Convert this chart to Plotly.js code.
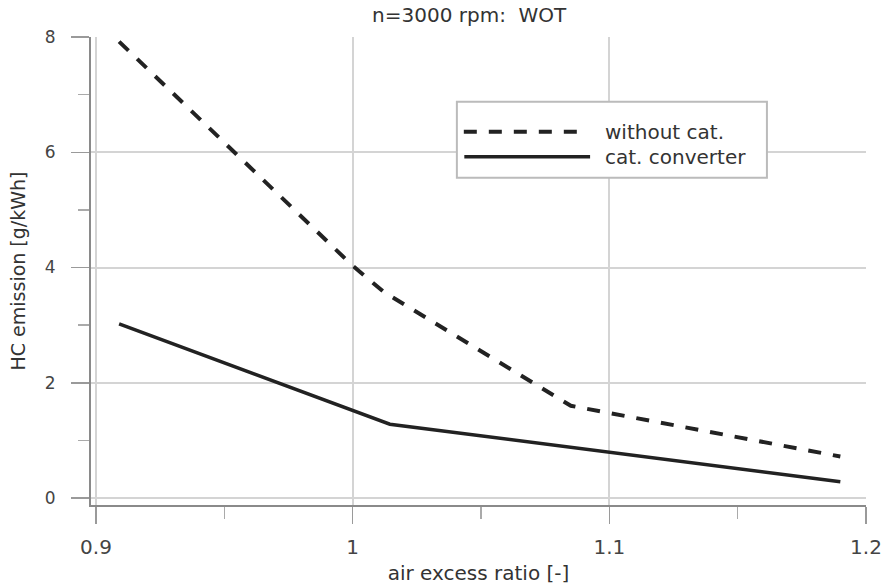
<!DOCTYPE html>
<html>
<head>
<meta charset="utf-8">
<script src="https://cdn.plot.ly/plotly-3.0.1.min.js"></script>
<style>html,body{margin:0;padding:0;background:#fff;}#chart{width:883px;height:585px;}</style>
</head>
<body>
<div id="chart"></div>
<script>
// Data
const seriesNames = ["without cat.", "cat. converter"];
const lambdaWithout = [0.909, 1.0, 1.012, 1.085, 1.19];
const hcWithout = [7.92, 4.03, 3.58, 1.60, 0.72];
const lambdaCat = [0.909, 1.0, 1.0145, 1.19];
const hcCat = [3.02, 1.53, 1.28, 0.28];
const xTicks = [0.9, 1, 1.1, 1.2];
const xTickText = ["0.9", "1", "1.1", "1.2"];
const yTicks = [0, 2, 4, 6, 8];
const yTickText = ["0", "2", "4", "6", "8"];

const FONT = "DejaVu Sans, Liberation Sans, sans-serif";
const INK = "#222";

const traces = [
  {x: lambdaWithout, y: hcWithout, name: seriesNames[0], mode: "lines", showlegend: false,
   line: {color: INK, width: 4, dash: "13px,12px"}},
  {x: lambdaCat, y: hcCat, name: seriesNames[1], mode: "lines", showlegend: false,
   line: {color: INK, width: 3.5}}
];

const layout = {
  width: 883, height: 585,
  margin: {l: 91, r: 17, t: 37, b: 80},
  paper_bgcolor: "#fff", plot_bgcolor: "#fff",
  font: {family: FONT, color: "#333", size: 15},
  title: {text: "n=3000 rpm:  WOT", font: {family: FONT, size: 20, color: "#333"},
          xref: "paper", x: 0.488, xanchor: "center", yref: "container", y: 0.974, yanchor: "middle"},
  xaxis: {
    range: [0.89805, 1.2], tickvals: xTicks, ticktext: xTickText,
    showgrid: true, gridcolor: "#d4d4d4", gridwidth: 2, zeroline: false,
    showline: true, linecolor: "#8a8a8a", linewidth: 2,
    ticks: "outside", ticklen: 17, tickcolor: "#9a9a9a", tickwidth: 1.5,
    ticklabelstandoff: 6,
    tickfont: {family: FONT, size: 20, color: "#444"},
    minor: {dtick: 0.05, tick0: 0.9, ticks: "outside", ticklen: 12, tickcolor: "#aaa", showgrid: false},
    title: {text: "air excess ratio [-]", font: {family: FONT, size: 20, color: "#333"}, standoff: 10}
  },
  yaxis: {
    range: [-0.1215, 8], tickvals: yTicks, ticktext: yTickText,
    showgrid: true, gridcolor: "#d4d4d4", gridwidth: 2, zeroline: false,
    showline: true, linecolor: "#8a8a8a", linewidth: 2,
    ticks: "outside", ticklen: 18, tickcolor: "#9a9a9a", tickwidth: 1.5,
    ticklabelstandoff: 12,
    tickfont: {family: FONT, size: 17, color: "#444"},
    minor: {dtick: 1, tick0: 0, ticks: "outside", ticklen: 11, tickcolor: "#aaa", showgrid: false},
    title: {text: "HC emission [g/kWh]", font: {family: FONT, size: 19, color: "#333"}, standoff: 14}
  },
  shapes: [
    {type: "rect", xref: "x", yref: "y", x0: 1.0406, x1: 1.1614, y0: 5.556, y1: 6.875,
     line: {color: "#bbb", width: 2}, fillcolor: "#fff", layer: "above"},
    {type: "line", xref: "x", yref: "y", x0: 1.0433, x1: 1.0905, y0: 6.354, y1: 6.354,
     line: {color: INK, width: 4, dash: "13px,12px"}, layer: "above"},
    {type: "line", xref: "x", yref: "y", x0: 1.0435, x1: 1.0925, y0: 5.92, y1: 5.92,
     line: {color: INK, width: 3.5}, layer: "above"}
  ],
  annotations: [
    {xref: "x", yref: "y", x: 1.0975, y: 6.36, text: seriesNames[0], showarrow: false,
     xanchor: "left", yanchor: "middle", font: {family: FONT, size: 20, color: "#333"}},
    {xref: "x", yref: "y", x: 1.0975, y: 5.91, text: seriesNames[1], showarrow: false,
     xanchor: "left", yanchor: "middle", font: {family: FONT, size: 20, color: "#333"}}
  ]
};

Plotly.newPlot("chart", traces, layout, {displayModeBar: false, staticPlot: true});
</script>
</body>
</html>
